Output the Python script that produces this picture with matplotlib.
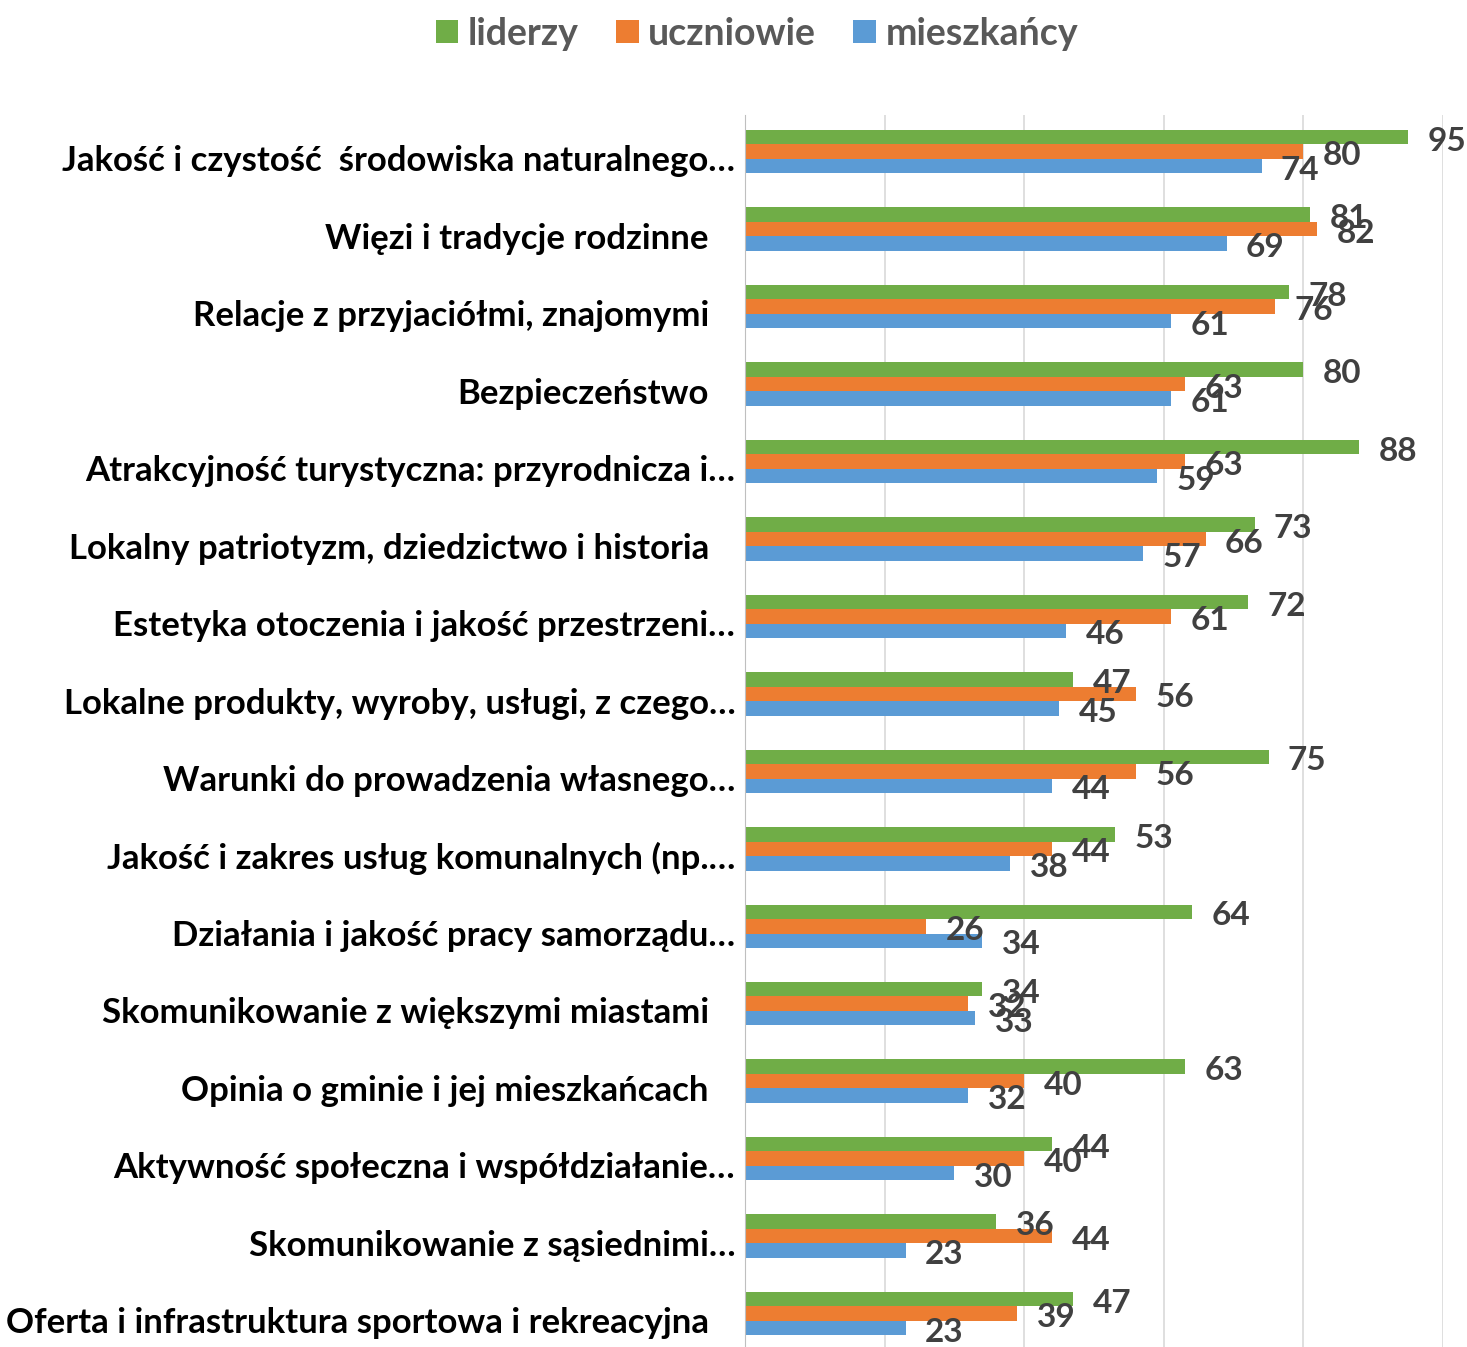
import matplotlib
matplotlib.use('Agg')
import matplotlib.pyplot as plt
import matplotlib.transforms as mtransforms
import numpy as np

# ── Data ──────────────────────────────────────────────────────────────────────
categories = [
    'Jakość i czystość  środowiska naturalnego…',
    'Więzi i tradycje rodzinne',
    'Relacje z przyjaciółmi, znajomymi',
    'Bezpieczeństwo',
    'Atrakcyjność turystyczna: przyrodnicza i…',
    'Lokalny patriotyzm, dziedzictwo i historia',
    'Estetyka otoczenia i jakość przestrzeni…',
    'Lokalne produkty, wyroby, usługi, z czego…',
    'Warunki do prowadzenia własnego…',
    'Jakość i zakres usług komunalnych (np.…',
    'Działania i jakość pracy samorządu…',
    'Skomunikowanie z większymi miastami',
    'Opinia o gminie i jej mieszkańcach',
    'Aktywność społeczna i współdziałanie…',
    'Skomunikowanie z sąsiednimi…',
    'Oferta i infrastruktura sportowa i rekreacyjna',
]
liderzy    = [95, 81, 78, 80, 88, 73, 72, 47, 75, 53, 64, 34, 63, 44, 36, 47]
uczniowie  = [80, 82, 76, 63, 63, 66, 61, 56, 56, 44, 26, 32, 40, 40, 44, 39]
mieszkancy = [74, 69, 61, 61, 59, 57, 46, 45, 44, 38, 34, 33, 32, 30, 23, 23]

series = [
    ('liderzy', liderzy, '#70AD47'),
    ('uczniowie', uczniowie, '#ED7D31'),
    ('mieszkańcy', mieszkancy, '#5B9BD5'),
]

FONT = ['Lato', 'DejaVu Sans']
plt.rcParams['font.family'] = FONT

fig = plt.figure(figsize=(14.67, 13.47), dpi=100)
ax = fig.add_axes([745 / 1467, 0.0, (1443 - 745) / 1467, 1 - 115 / 1347])

y = np.arange(len(categories))
h = 0.187
for k, (name, vals, col) in enumerate(series):
    pos = y + (k - 1) * h
    ax.barh(pos, vals, height=h, color=col, label=name, zorder=2)
    for p, v in zip(pos, vals):
        ax.annotate(str(v), (v, p), xytext=(14, -3), textcoords='offset points',
                    ha='left', va='center', fontsize=24, fontweight='bold',
                    color='#404040', annotation_clip=False)

ax.set_xlim(0, 100)
ax.set_ylim(len(categories) - 1 + 0.43, -0.47)
ax.set_xticks([0, 20, 40, 60, 80, 100])
ax.xaxis.grid(True, color='#D9D9D9', linewidth=1.2, zorder=0)
ax.tick_params(axis='both', length=0, labelbottom=False, labelleft=False)
ax.set_yticks([])
for s in ['top', 'right', 'bottom']:
    ax.spines[s].set_visible(False)
ax.spines['left'].set_color('#BFBFBF')

# category labels: truncated ones sit closer to the axis
for i, cat in enumerate(categories):
    pad = 7 if cat.endswith('…') else 26
    tr = ax.transData + mtransforms.ScaledTranslation(-pad / 72, -7 / 72, fig.dpi_scale_trans)
    ax.text(0, i, cat, transform=tr, ha='right', va='center',
            fontsize=25, fontweight='bold', color='black')

fig.legend(loc='center', bbox_to_anchor=(0.516, 0.975), ncol=3, frameon=False,
           handlelength=0.6, handleheight=0.6, handletextpad=0.25,
           columnspacing=1.0, labelcolor='#595959',
           prop={'family': FONT, 'size': 27, 'weight': 'bold'})

fig.savefig('out.png', dpi=100)
